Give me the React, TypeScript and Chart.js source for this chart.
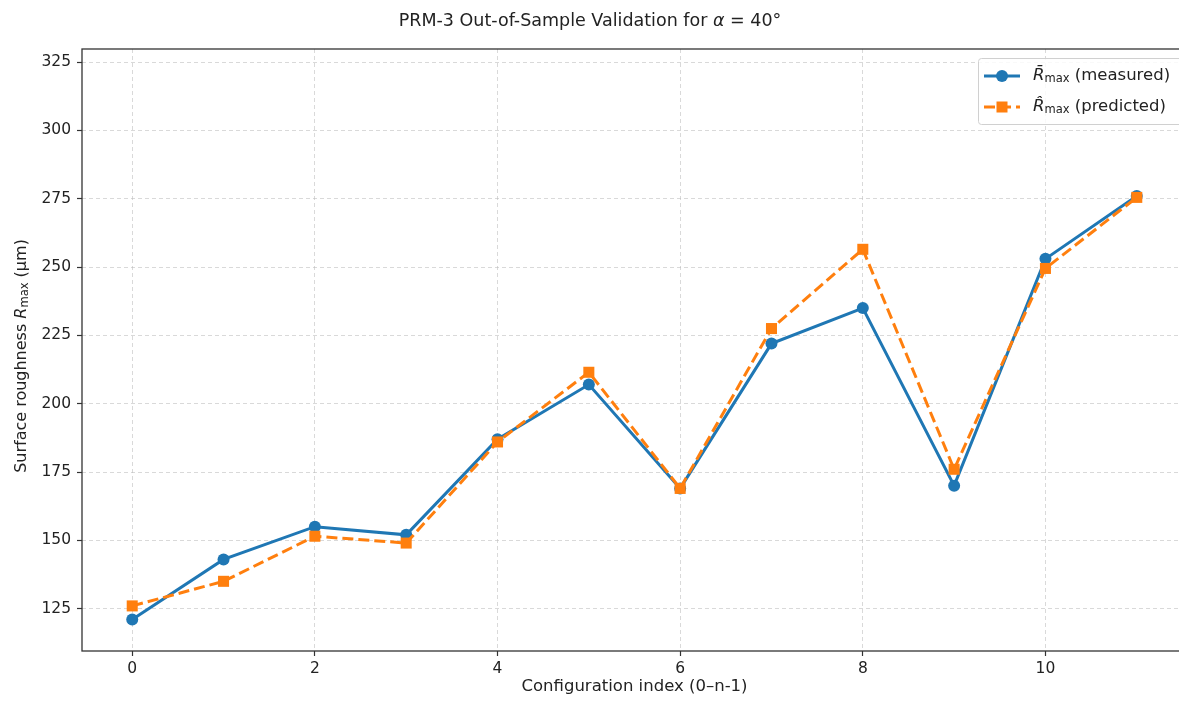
import React, { useEffect, useRef } from "react";
import { Chart, registerables } from "chart.js";

Chart.register(...registerables);

const configIndex = [0, 1, 2, 3, 4, 5, 6, 7, 8, 9, 10, 11];
const measured = [121, 143, 155, 152, 187, 207, 169, 222, 235, 170, 253, 276];
const predicted = [126, 135, 151.5, 149, 186, 211.5, 169, 227.5, 256.5, 176, 249.5, 275.5];
const xTicks = [0, 2, 4, 6, 8, 10];
const yTicks = [125, 150, 175, 200, 225, 250, 275, 300, 325];

const BLUE = "#1f77b4";
const ORANGE = "#ff7f0e";
const FONT = '"DejaVu Sans"';

type Seg = { t: string; font: string; dy?: number };

function drawSegs(ctx: CanvasRenderingContext2D, segs: Seg[], x: number, y: number, align: "left" | "center") {
  let total = 0;
  for (const s of segs) {
    ctx.font = s.font;
    total += ctx.measureText(s.t).width;
  }
  let cx = align === "center" ? x - total / 2 : x;
  ctx.textAlign = "left";
  ctx.textBaseline = "middle";
  for (const s of segs) {
    ctx.font = s.font;
    ctx.fillText(s.t, cx, y + (s.dy || 0));
    cx += ctx.measureText(s.t).width;
  }
}

const decorPlugin = {
  id: "decor",
  afterDraw(chart: any) {
    const ctx: CanvasRenderingContext2D = chart.ctx;
    const a = chart.chartArea;
    ctx.save();
    // frame
    ctx.strokeStyle = "#333";
    ctx.lineWidth = 1.3;
    ctx.strokeRect(a.left, a.top, a.right - a.left, a.bottom - a.top);

    ctx.fillStyle = "#222";
    // title
    drawSegs(
      ctx,
      [
        { t: "PRM-3 Out-of-Sample Validation for ", font: `17.5px ${FONT}` },
        { t: "α", font: `oblique 17.5px ${FONT}` },
        { t: " = 40°", font: `17.5px ${FONT}` },
      ],
      590,
      21,
      "center"
    );
    // x label
    drawSegs(ctx, [{ t: "Configuration index (0–n-1)", font: `16.5px ${FONT}` }], (a.left + a.right) / 2, 687, "center");
    // y label
    ctx.save();
    ctx.translate(22, 356);
    ctx.rotate(-Math.PI / 2);
    drawSegs(
      ctx,
      [
        { t: "Surface roughness ", font: `16px ${FONT}` },
        { t: "R", font: `oblique 16px ${FONT}` },
        { t: "max", font: `11.5px ${FONT}`, dy: 3.5 },
        { t: " (μm)", font: `16px ${FONT}` },
      ],
      0,
      0,
      "center"
    );
    ctx.restore();

    // legend
    const lx = 978, ly = 58, lw = 225, lh = 66;
    ctx.fillStyle = "rgba(255,255,255,0.85)";
    ctx.strokeStyle = "#d0d0d0";
    ctx.lineWidth = 1;
    ctx.beginPath();
    (ctx as any).roundRect(lx + 0.5, ly + 0.5, lw, lh, 3);
    ctx.fill();
    ctx.stroke();

    const rows = [
      { y: 76, color: BLUE, dash: [] as number[], style: "circle", acc: "R\u0304", label: " (measured)" },
      { y: 107, color: ORANGE, dash: [11, 5], style: "rect", acc: "R\u0302", label: " (predicted)" },
    ];
    for (const r of rows) {
      ctx.strokeStyle = r.color;
      ctx.fillStyle = r.color;
      ctx.lineWidth = 3;
      ctx.setLineDash(r.dash);
      ctx.beginPath();
      ctx.moveTo(984, r.y);
      ctx.lineTo(1020, r.y);
      ctx.stroke();
      ctx.setLineDash([]);
      if (r.style === "circle") {
        ctx.beginPath();
        ctx.arc(1002, r.y, 6, 0, Math.PI * 2);
        ctx.fill();
      } else {
        ctx.fillRect(1002 - 5.5, r.y - 5.5, 11, 11);
      }
      ctx.fillStyle = "#222";
      drawSegs(
        ctx,
        [
          { t: r.acc, font: `oblique 16.5px ${FONT}` },
          { t: "max", font: `11.5px ${FONT}`, dy: 3.5 },
          { t: r.label, font: `16.5px ${FONT}` },
        ],
        1033,
        r.y,
        "left"
      );
    }
    ctx.restore();
  },
};

export default function App() {
  const ref = useRef<HTMLCanvasElement>(null);

  useEffect(() => {
    const canvas = ref.current;
    if (!canvas) return;
    const grid = {
      color: "rgba(185,185,185,0.55)",
      lineWidth: 1,
      tickColor: "#333",
      tickLength: 5,
      tickWidth: 1.2,
      tickBorderDash: [],
    };
    const border = { display: false, dash: [4, 3] };
    const tickFont = { family: "DejaVu Sans", size: 15.5 };
    const chart = new Chart(canvas, {
      type: "line",
      data: {
        datasets: [
          {
            label: "measured",
            data: configIndex.map((x, i) => ({ x, y: measured[i] })),
            borderColor: BLUE,
            backgroundColor: BLUE,
            borderWidth: 3,
            pointStyle: "circle",
            pointRadius: 6,
            pointBorderWidth: 0,
            pointBackgroundColor: BLUE,
            tension: 0,
            order: 1,
          },
          {
            label: "predicted",
            data: configIndex.map((x, i) => ({ x, y: predicted[i] })),
            borderColor: ORANGE,
            backgroundColor: ORANGE,
            borderWidth: 3,
            borderDash: [11, 5],
            pointStyle: "rect",
            pointRadius: 7.8,
            pointBorderWidth: 0,
            pointBackgroundColor: ORANGE,
            tension: 0,
            order: 0,
          },
        ],
      },
      options: {
        responsive: false,
        animation: false,
        devicePixelRatio: 1,
        layout: { padding: { left: 0, top: 49, right: 8, bottom: 0 } },
        plugins: { legend: { display: false }, title: { display: false }, tooltip: { enabled: false } },
        scales: {
          x: {
            type: "linear",
            min: -0.55,
            max: 11.55,
            afterBuildTicks: (s: any) => {
              s.ticks = xTicks.map((v) => ({ value: v }));
            },
            afterFit: (s: any) => {
              s.height = 53;
            },
            grid,
            border,
            ticks: { color: "#222", font: tickFont, padding: 4 },
          },
          y: {
            type: "linear",
            min: 109.5,
            max: 329.8,
            afterBuildTicks: (s: any) => {
              s.ticks = yTicks.map((v) => ({ value: v }));
            },
            afterFit: (s: any) => {
              s.width = 82;
            },
            grid,
            border,
            ticks: { color: "#222", font: tickFont, padding: 6 },
          },
        },
      },
      plugins: [decorPlugin],
    } as any);
    return () => chart.destroy();
  }, []);

  return (
    <div style={{ position: "fixed", left: 0, top: 0, width: 1179, height: 704, overflow: "hidden", background: "#fff" }}>
      <canvas ref={ref} width={1195} height={704} style={{ width: 1195, height: 704, display: "block" }} />
    </div>
  );
}
